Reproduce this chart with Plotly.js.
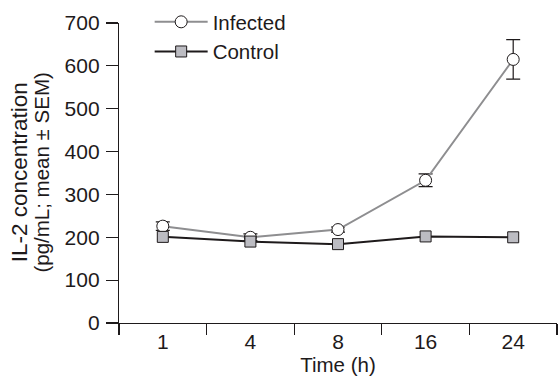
<!DOCTYPE html>
<html>
<head>
<meta charset="utf-8">
<script src="https://cdn.plot.ly/plotly-3.0.1.min.js"></script>
<style>html,body{margin:0;padding:0;background:#fff;}#chart{width:558px;height:380px;}</style>
</head>
<body>
<div id="chart"></div>
<script>
const timeLabels = ['1', '4', '8', '16', '24'];
const infectedMean = [226, 200, 218, 333, 615];
const infectedSEM = [10, 8, 6, 15, 46];
const controlMean = [201, 190, 184, 202, 200];
const controlSEM = [6, 5, 5, 5, 5];
const yTitleLines = ['IL-2 concentration', '(pg/mL; mean ± SEM)'];

const dark = '#1e1a1b';
const fontFam = 'Liberation Sans, Arial, Helvetica, sans-serif';

const traces = [
  {
    name: 'Infected',
    x: timeLabels, y: infectedMean, type: 'scatter', mode: 'lines+markers',
    line: {color: '#8e8e90', width: 2},
    marker: {symbol: 'circle', size: 12, color: '#ffffff', line: {color: dark, width: 1}},
    error_y: {type: 'data', array: infectedSEM, visible: true, color: dark, thickness: 1.2, width: 7}
  },
  {
    name: 'Control',
    x: timeLabels, y: controlMean, type: 'scatter', mode: 'lines+markers',
    line: {color: dark, width: 2},
    marker: {symbol: 'square', size: 11, color: '#bcbcc2', line: {color: dark, width: 1}},
    error_y: {type: 'data', array: controlSEM, visible: true, color: dark, thickness: 1.2, width: 5}
  }
];

const layout = {
  width: 558, height: 380,
  margin: {l: 119, r: 1, t: 23, b: 57},
  paper_bgcolor: '#fff', plot_bgcolor: '#fff',
  font: {family: fontFam, size: 21, color: dark},
  showlegend: true,
  legend: {x: 0.07, y: 1.07, xanchor: 'left', yanchor: 'top', bgcolor: 'rgba(0,0,0,0)',
           font: {size: 20.5, color: dark}, itemwidth: 53, tracegroupgap: 5, traceorder: 'normal'},
  xaxis: {
    type: 'category', range: [-0.5, 4.5],
    showline: true, linecolor: dark, linewidth: 1.2,
    ticks: 'outside', tickson: 'boundaries', ticklen: 11, tickcolor: dark, tickwidth: 1.2,
    showgrid: false, zeroline: false,
    tickfont: {size: 21, color: dark},
    title: {text: 'Time (h)', font: {size: 20.5, color: dark}, standoff: 5}
  },
  yaxis: {
    range: [0, 700], tickvals: [0,100,200,300,400,500,600,700],
    showline: true, linecolor: dark, linewidth: 1.2,
    ticks: 'outside', ticklen: 12, tickcolor: dark, tickwidth: 1.2,
    ticklabelstandoff: 2,
    showgrid: false, zeroline: false,
    tickfont: {size: 21, color: dark}
  },
  annotations: [
    {text: yTitleLines[0], xref: 'paper', yref: 'paper', x: -0.228, y: 0.503,
     xanchor: 'center', yanchor: 'middle', textangle: -90, showarrow: false,
     font: {size: 22.5, color: dark}},
    {text: yTitleLines[1], xref: 'paper', yref: 'paper', x: -0.177, y: 0.503,
     xanchor: 'center', yanchor: 'middle', textangle: -90, showarrow: false,
     font: {size: 20.5, color: dark}}
  ]
};

Plotly.newPlot('chart', traces, layout, {displayModeBar: false, staticPlot: true});
</script>
</body>
</html>
